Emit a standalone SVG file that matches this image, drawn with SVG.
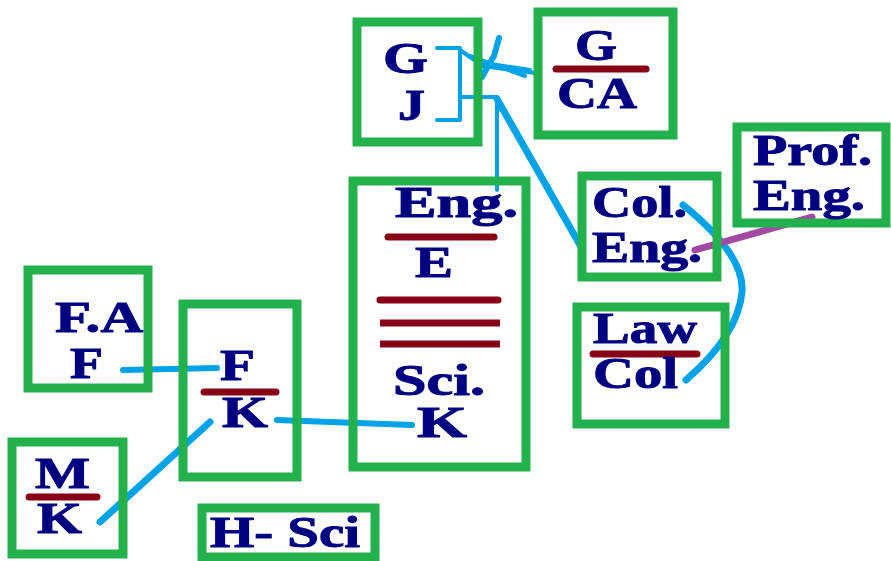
<svg xmlns="http://www.w3.org/2000/svg" width="891" height="561" viewBox="0 0 891 561">
<style>
.box{fill:none;stroke:#22b14c;stroke-width:9}
.t{font-family:"Liberation Serif","Times New Roman",serif;font-weight:bold;font-size:44px;fill:#000080;stroke:#000080;stroke-width:1}
.bar{stroke:#880015;stroke-width:7;stroke-linecap:round}
.sq{stroke:#880015;stroke-width:7}
.c{fill:none;stroke:#00a2e8;stroke-linecap:round;stroke-linejoin:round}
</style>
<rect width="891" height="561" fill="#fff"/>
<g id="connectors">
<path class="c" stroke-width="4" d="M437,48 H460 V120 H437 M460,97 H497 V190"/>
<path class="c" stroke-width="7" d="M497,99 L580,245"/>
<path class="c" stroke-width="4" d="M460,50 L483,66 L535,73 M478,62 L530,70 M470,56 L525,76"/>
<path class="c" stroke-width="6" d="M499,38 L494,56 L488,66 L482,77"/>
<path class="c" stroke-width="6" d="M123,370 L217,368"/>
<path class="c" stroke-width="6" d="M277,420 L412,425"/>
<path class="c" stroke-width="7" d="M100,522 L210,422"/>
<path class="c" stroke-width="7" d="M683,205 Q745,255 742,292 Q738,335 686,380"/>
<path fill="none" stroke="#a349a4" stroke-width="7" stroke-linecap="round" d="M695,250 L812,217"/>
</g>
<g id="gj"><rect class="box" x="357" y="22" width="121" height="120"/>
<text class="t" x="383" y="73" textLength="45" lengthAdjust="spacingAndGlyphs">G</text>
<text class="t" x="398" y="120" textLength="27" lengthAdjust="spacingAndGlyphs">J</text></g>
<g id="gca"><rect class="box" x="538" y="12" width="135" height="123"/>
<text class="t" x="575" y="60" textLength="42" lengthAdjust="spacingAndGlyphs">G</text>
<line class="bar" x1="556" y1="69" x2="646" y2="69"/>
<text class="t" x="557" y="108" textLength="80" lengthAdjust="spacingAndGlyphs">CA</text></g>
<g id="engsci"><rect class="box" x="353" y="181" width="173" height="286"/>
<text class="t" x="395" y="217" textLength="123" lengthAdjust="spacingAndGlyphs">Eng.</text>
<line class="bar" x1="388" y1="237" x2="494" y2="237"/>
<text class="t" x="415" y="277" textLength="38" lengthAdjust="spacingAndGlyphs">E</text>
<line class="bar" x1="380" y1="300" x2="498" y2="300"/>
<line class="sq" x1="380" y1="323" x2="500" y2="323"/>
<line class="sq" x1="380" y1="344" x2="500" y2="344"/>
<text class="t" x="393" y="395" textLength="92" lengthAdjust="spacingAndGlyphs">Sci.</text>
<text class="t" x="417" y="437" textLength="50" lengthAdjust="spacingAndGlyphs">K</text></g>
<g id="coleng"><rect class="box" x="582" y="176" width="135" height="101"/>
<text class="t" x="592" y="217" textLength="95" lengthAdjust="spacingAndGlyphs">Col.</text>
<text class="t" x="592" y="262" textLength="110" lengthAdjust="spacingAndGlyphs">Eng.</text></g>
<g id="profeng"><rect class="box" x="737" y="127" width="149" height="96"/>
<text class="t" x="753" y="165" textLength="119" lengthAdjust="spacingAndGlyphs">Prof.</text>
<text class="t" x="753" y="210" textLength="112" lengthAdjust="spacingAndGlyphs">Eng.</text></g>
<g id="lawcol"><rect class="box" x="577" y="307" width="148" height="117"/>
<text class="t" x="593" y="343" textLength="104" lengthAdjust="spacingAndGlyphs">Law</text>
<line class="bar" x1="593" y1="354" x2="697" y2="354"/>
<text class="t" x="593" y="388" textLength="85" lengthAdjust="spacingAndGlyphs">Col</text></g>
<g id="faf"><rect class="box" x="28" y="270" width="120" height="118"/>
<text class="t" x="55" y="332" textLength="88" lengthAdjust="spacingAndGlyphs">F.A</text>
<text class="t" x="70" y="378" textLength="33" lengthAdjust="spacingAndGlyphs">F</text></g>
<g id="fk"><rect class="box" x="183" y="304" width="114" height="173"/>
<text class="t" x="220" y="380" textLength="35" lengthAdjust="spacingAndGlyphs">F</text>
<line class="bar" x1="204" y1="392" x2="276" y2="392"/>
<text class="t" x="222" y="427" textLength="46" lengthAdjust="spacingAndGlyphs">K</text></g>
<g id="mk"><rect class="box" x="12" y="442" width="111" height="112"/>
<text class="t" x="35" y="488" textLength="55" lengthAdjust="spacingAndGlyphs">M</text>
<line class="bar" x1="29" y1="497" x2="97" y2="497"/>
<text class="t" x="37" y="533" textLength="45" lengthAdjust="spacingAndGlyphs">K</text></g>
<g id="hsci"><rect class="box" x="202" y="508" width="173" height="49"/>
<text class="t" x="210" y="547" textLength="150" lengthAdjust="spacingAndGlyphs">H- Sci</text></g>
</svg>
